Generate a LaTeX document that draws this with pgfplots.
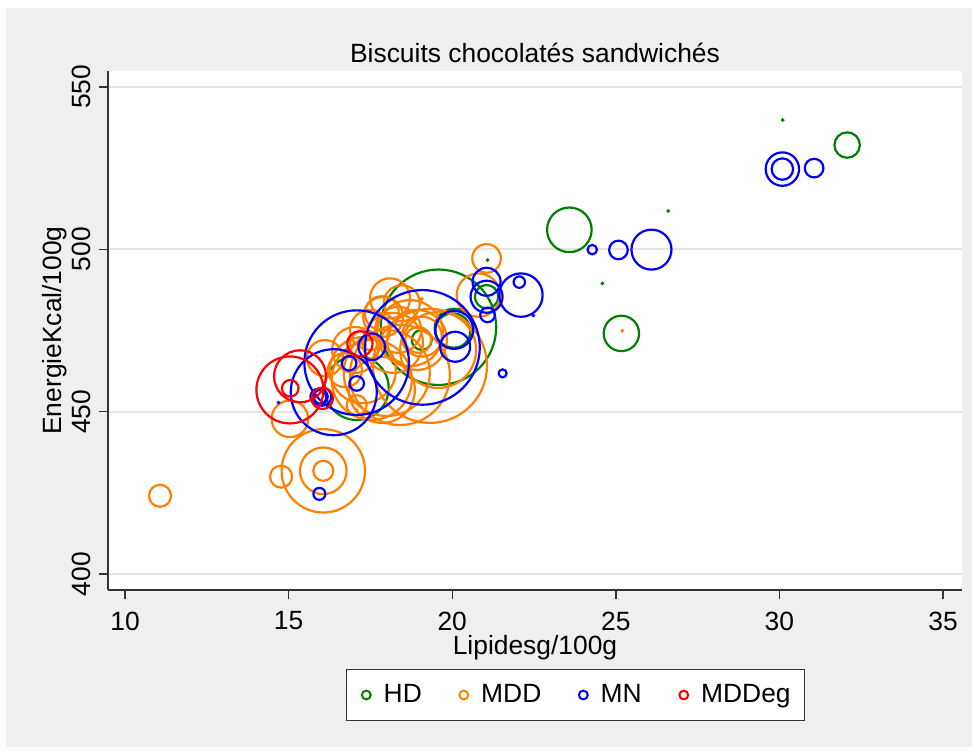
\documentclass[border=0pt]{standalone}
\usepackage{pgfplots}
\pgfplotsset{compat=1.18}
\usepackage{pgfplotstable}
\usepackage{fontspec}
\setmainfont{Liberation Sans}
\definecolor{cHD}{RGB}{0,128,0}
\definecolor{cMDD}{RGB}{255,128,0}
\definecolor{cMN}{RGB}{0,0,255}
\definecolor{cMDDeg}{RGB}{255,0,0}
\definecolor{bggray}{RGB}{239,239,239}
\definecolor{gridgray}{RGB}{228,228,228}

% x = Lipides, y = Energie, r = bubble radius (px of the reference)
\pgfplotstableread{
x y r
19.58 476.0 57.7
23.58 506.0 22.3
25.17 474.1 17.7
32.07 532.1 12.7
30.10 539.8 0.5
26.60 511.8 0.5
24.59 489.5 0.5
21.08 496.7 0.5
20.06 475.7 19.5
20.02 474.9 17.5
21.05 485.4 11.7
17.08 457.3 32
19.07 472.1 10
19.05 475.0 0.5
}\hdtable

\pgfplotstableread{
x y r
11.07 424.1 11
14.77 430.0 11
16.06 431.8 41.7
16.06 431.8 23.3
16.06 431.8 10
15.04 447.8 18.3
21.05 497.2 14.3
20.80 485.9 21.7
19.07 484.7 0.5
17.08 450.5 0.5
25.20 474.9 0.5
17.08 452.0 10
19.32 464.1 57
18.40 461.3 50
19.57 469.0 38
17.54 459.8 40
17.85 456.7 33
18.35 475.2 23
17.03 469.0 23
16.72 462.8 17
18.10 484.9 20
18.46 483.4 18
17.85 480.3 17
19.07 473.1 20
18.96 472.1 13
18.71 474.2 33
18.00 461.9 43
17.27 462.8 33
16.11 466.5 18
17.33 470.5 15
18.19 471.2 30
18.92 472.1 30
17.49 475.2 20
17.89 479.2 20
}\mddtable

\pgfplotstableread{
x y r
21.05 490.0 14
21.05 485.4 16
21.08 479.8 7.3
22.10 485.9 21.7
22.05 489.9 5.7
22.48 479.6 0.5
19.09 469.8 57.3
20.06 475.2 19
20.09 470.0 15
17.08 465.1 52.3
16.38 456.0 43
16.03 454.6 9
15.98 454.6 7
15.91 454.6 8
17.54 470.0 13.3
16.85 464.9 7.3
17.08 458.7 7.3
21.54 461.8 4
15.94 424.7 6
24.28 499.9 4.7
25.08 499.8 9.3
26.09 499.9 20
30.09 524.7 16.7
30.09 524.7 10.7
31.06 525.0 9.3
14.69 452.8 0.5
}\mntable

\pgfplotstableread{
x y r
15.04 456.7 33.5
15.35 460.9 26
15.05 457.2 8.3
16.03 454.1 10.7
17.18 470.9 12.7
}\mddegtable

\pgfplotsset{
  bubble/.style={scatter, only marks, mark=o, forget plot,
    visualization depends on={0.50188*\thisrow{r} \as \perpointmarksize},
    scatter/@pre marker code/.code={\scope[mark size=\perpointmarksize, draw=#1, fill=none, line width=1.1bp]},
    scatter/@post marker code/.code={\endscope}},
  legimg/.style={legend image code/.code={%
    \path[draw=none, fill=none] (-5bp,-1bp) rectangle (6.7bp,1bp);
    \draw[#1, line width=1bp, fill=none] (0bp,0bp) circle (2.2bp);}},
}
\newcommand{\lfont}{\fontsize{13.2bp}{15.5bp}\selectfont}

\begin{document}
\begin{tikzpicture}
\path[use as bounding box, fill=white] (-54bp,-81.5bp) rectangle (435bp,295bp);
\fill[bggray] (-51bp,-78.5bp) rectangle (432bp,291bp);
\begin{axis}[
  at={(0,0)}, anchor=south west,
  scale only axis, width=427bp, height=259.5bp,
  xmin=9.48, xmax=35.58, ymin=395.1, ymax=554.9,
  axis background/.style={fill=white},
  axis x line*=bottom, axis y line*=left,
  axis line style={draw=black!80, line width=0.7bp},
  xtick={10,15,20,25,30,35}, ytick={400,450,500,550},
  minor tick num=0,
  tick align=outside, major tick length=4.5bp,
  tick style={draw=black!80, line width=0.7bp},
  ymajorgrids, grid style={draw=gridgray, line width=1.1bp},
  /pgf/number format/assume math mode=true,
  tick label style={font=\lfont},
  xticklabel style={anchor=center, yshift=-11bp},
  yticklabel style={anchor=center, xshift=-9bp, rotate=90},
  title={Biscuits chocolatés sandwichés},
  title style={font=\lfont, at={(axis description cs:0.5,1)}, anchor=base, yshift=-1.5bp},
  xlabel={Lipidesg/100g},
  xlabel style={font=\lfont, at={(axis description cs:0.5,-0.112)}, anchor=center},
  ylabel={EnergieKcal/100g},
  ylabel style={font=\lfont, at={(axis description cs:-0.063,0.5)}, anchor=center},
  legend style={at={(axis description cs:0.5474,-0.2023)}, anchor=center,
    draw=black!80, line width=0.6bp, fill=white, legend columns=4,
    font=\lfont, inner xsep=5bp, inner ysep=5.5bp,
    /tikz/every even column/.append style={column sep=14bp}},
]
\addplot[bubble=cHD] table {\hdtable};
\addplot[bubble=cMDD] table {\mddtable};
\addplot[bubble=cMN] table {\mntable};
\addplot[bubble=cMDDeg] table {\mddegtable};
\addlegendimage{legimg=cHD}
\addlegendentry{HD}
\addlegendimage{legimg=cMDD}
\addlegendentry{MDD}
\addlegendimage{legimg=cMN}
\addlegendentry{MN}
\addlegendimage{legimg=cMDDeg}
\addlegendentry{MDDeg}
\end{axis}
\end{tikzpicture}
\end{document}
